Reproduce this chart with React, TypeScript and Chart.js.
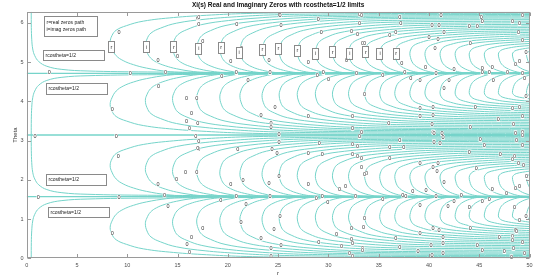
import React, { useEffect, useRef } from "react";
import { Chart, registerables } from "chart.js";

Chart.register(...registerables);

const FONT = "'Liberation Sans', Arial, Helvetica, sans-serif";
const CYAN = "rgb(118,212,202)";
const TITLE = "Xi(s) Real and Imaginary Zeros with rcostheta=1/2 limits";

// ---------- data ----------
// Contour family in the band 0 < theta < pi/2 (other bands are its mirror images)
const curveVertexR = [8.3, 11.8, 14.5, 16.9, 19.2, 21.2, 23.4, 25.1, 26.9, 28.7, 30.4, 32.0, 33.6, 35.1, 36.6, 38.1, 39.6, 41.1, 42.6, 44.0, 45.5, 46.9, 48.3, 49.7];
const curveVertexTheta = [0.78, 0.88, 0.93, 0.95, 0.97, 1.0, 1.0, 1.02, 1.03, 1.05, 1.04, 1.05, 1.05, 1.06, 1.06, 1.06, 1.07, 1.07, 1.07, 1.08, 1.08, 1.08, 1.08, 1.08];
const curveOuterTheta = [0.01, 0.04, 0.07, 0.1, 0.13, 0.16, 0.2, 0.24, 0.28, 0.32, 0.36, 0.4, 0.44, 0.48, 0.52, 0.56, 0.6, 0.64, 0.68, 0.72, 0.76, 0.8, 0.84, 0.88];
const curveOuterSpan = [3.5, 3.3, 3.1, 3.0, 2.9, 2.8, 2.7, 2.6, 2.6, 2.5, 2.5, 2.4, 2.4, 2.4, 2.3, 2.3, 2.3, 2.3, 2.2, 2.2, 2.2, 2.2, 2.2, 2.2];
const curveInnerSpan = [3.5, 3.0, 2.6, 2.3, 2.1, 1.9, 1.8, 1.7, 1.6, 1.5, 1.5, 1.4, 1.4, 1.3, 1.3, 1.3, 1.2, 1.2, 1.2, 1.2, 1.2, 1.2, 1.2, 1.2];

// shape of the first curve, normalised (outer branch toward theta=0, inner toward pi/2)
const outerProfileU = [0, 0.05, 0.17, 0.46, 0.94, 1.8, 2.74, 3.7, 5, 7, 10, 16];
const outerProfile = [1, 0.78, 0.6, 0.45, 0.3, 0.18, 0.105, 0.053, 0.025, 0.01, 0.003, 0];
const innerProfileU = [0, 0.05, 0.17, 0.37, 0.66, 1.03, 1.6, 2.06, 3, 5, 30];
const innerProfile = [1, 0.79, 0.57, 0.41, 0.28, 0.17, 0.065, 0.027, 0.008, 0.002, 0];

// r*cos(theta)=1/2 boundary (first quadrant piece)
const stripR = [0.45, 0.46, 0.5, 0.6, 0.8, 1.2, 2, 3.5, 6, 12, 25, 50];
const stripTheta = [0, 0.4, 0.7, 0.95, 1.12, 1.27, 1.39, 1.47, 1.51, 1.535, 1.55, 1.56];

// straight zero lines
const zeroLineTheta = [Math.PI / 2, Math.PI, (3 * Math.PI) / 2];

// "0" contour labels
const zeroLabelR = [9.17, 13.07, 15.0, 17.0, 2.25, 10.3, 13.8, 13.1, 8.5, 16.4, 15.9, 16.2, 0.82, 8.9, 16.8, 15.9,
  17.1, 17.1, 20.9, 25.2, 25.3, 29, 29.3, 33.1, 33.1, 32.3, 33.4, 17.5, 21.35, 20.3, 24.1, 28, 31.8, 20.85, 24.2, 28.9, 29.5, 32.8, 19.4, 22, 30.0, 16.9, 24.7, 23.3, 28, 17.0, 24.3, 24.3, 32.4, 32.4, 33.1,
  33.3, 37.1, 37.2, 41.2, 41, 40.3, 41.5, 45.2, 45.3, 44, 44.8, 49.3, 48.3, 49, 48.9, 49.3, 32.9, 36.1, 36.7, 40, 40.9, 44.1, 33.6, 40.6, 49.65, 37.3, 39.65, 42.5, 45.3, 46.3, 49, 48.6, 35.4, 37.6, 38.2, 39.1, 40.7, 42, 45.3, 46, 47.8, 49.3, 49.5, 46.4, 41.5, 39.1, 40.4, 44.6, 48.3, 49, 49.65, 33.6, 36, 39.1, 40.4, 40.3, 44.1, 46.9, 48.4, 49.3, 33.3, 40.4, 49.3, 37.1,
  9.1, 17.1, 17.1, 14.9, 13.07, 15.8, 1.15, 9.17, 13.7, 14.06, 8.5, 16.4, 15.95, 16.2,
  25.1, 25.1, 17, 21, 24.4, 24.9, 29.1, 28, 29.4, 32.4, 32.9, 32.4, 32.9, 33.3, 33.8, 16.9, 20.3, 21.5, 24.1, 25.1, 28, 31.1, 31.7, 20.85, 24.2, 28.8, 29.4, 32.7, 19.3, 21.8, 29.95, 25.2, 21.3, 17.5, 24.6, 32.3, 33.5, 30.8, 23.3, 29.05, 32.3, 25.3, 31.3, 32.4, 33.4, 24.3, 24.3, 32.1, 32.4,
  36.1, 37.5, 37.1, 40.5, 41.1, 40.5, 41.3, 41.4, 45.1, 45.5, 44, 47.1, 48.6, 49.3, 48.7, 49.3, 48.5, 48.3, 48.9, 49.4, 33.3, 36.1, 40.4, 40.8, 40.9, 39.1, 44.7, 33.6, 41.5, 49.7, 38.4, 39.7, 37.4, 46.3, 47.7, 48.6, 49, 35.4, 37.7, 39.1, 40.7, 43.2, 42.5, 41.9, 45.3, 44, 46, 48.5, 49.65, 33.6, 49, 39.1, 40.4, 41, 44.1, 48.6, 41.4, 47, 48.3, 48.7, 36.7, 33.4, 37.1, 38.9, 40.2, 40.3, 41.4, 41.4, 44.8, 45.3, 48.3, 48.4, 49.3, 49.5, 47.5, 48.2];
const zeroLabelTheta = [5.75, 5.05, 5.15, 6.11, 4.73, 4.71, 4.75, 4.39, 3.80, 3.69, 3.5, 3.31, 3.12, 3.12, 3.12, 4.07,
  6.14, 5.97, 5.96, 6.2, 5.94, 6.09, 5.77, 6.22, 6.0, 5.79, 5.47, 5.52, 5.35, 5.02, 5.05, 5.0, 5.05, 4.73, 4.73, 4.67, 4.73, 4.71, 4.64, 4.54, 4.56, 4.09, 3.86, 3.65, 3.61, 3.45, 3.45, 3.35, 3.61, 3.31, 3.1,
  6.2, 6.15, 5.98, 6.2, 5.94, 5.94, 5.75, 6.15, 6.03, 5.92, 5.92, 6.2, 6.03, 5.98, 5.75, 5.56, 5.72, 5.69, 5.75, 5.63, 5.58, 5.49, 5.47, 5.36, 5.24, 4.97, 4.88, 4.81, 4.84, 4.88, 5.02, 4.94, 4.67, 4.75, 4.58, 4.54, 4.71, 4.54, 4.73, 4.73, 4.75, 4.71, 4.58, 4.54, 4.33, 3.82, 3.86, 3.86, 3.82, 3.86, 4.12, 4.18, 3.45, 3.61, 3.65, 3.42, 3.35, 3.54, 3.42, 3.61, 3.22, 3.22, 3.22, 3.01,
  2.6, 2.99, 2.78, 2.01, 1.89, 2.19, 1.55, 1.55, 1.61, 1.33, 0.65, 0.55, 0.36, 0.15,
  3.16, 2.97, 2.8, 2.78, 2.78, 2.69, 2.93, 2.69, 2.65, 2.9, 2.86, 2.65, 2.6, 2.31, 2.16, 2.19, 1.88, 1.99, 1.91, 2.08, 1.88, 1.76, 1.84, 1.57, 1.57, 1.53, 1.57, 1.57, 1.48, 1.38, 1.42, 1.08, 0.91, 0.76, 0.74, 0.76, 0.8, 0.62, 0.51, 0.40, 0.49, 0.34, 0.30, 0.38, 0.25, 0.25, 0.06, 0.13, 0.06,
  2.84, 2.82, 3.0, 2.97, 2.93, 3.2, 3.18, 3.08, 3.03, 2.88, 2.71, 2.65, 3.2, 3.14, 3.01, 2.88, 2.6, 2.52, 2.42, 2.38, 2.55, 2.55, 2.31, 2.22, 2.43, 2.43, 2.29, 2.14, 1.94, 2.08, 1.7, 1.74, 1.61, 1.76, 1.67, 1.78, 1.84, 1.50, 1.57, 1.36, 1.57, 1.61, 1.46, 1.34, 1.46, 1.29, 1.50, 1.31, 1.08, 1.03, 0.96, 0.64, 0.76, 0.72, 0.78, 0.72, 0.53, 0.55, 0.57, 0.68, 0.51, 0.21, 0.28, 0.19, 0.34, 0.08, 0.38, 0.14, 0.34, 0.21, 0.47, 0.25, 0.40, 0.13, 0.17, 0.04];

// r / i path markers
const pathMarkLetter = ["r", "i", "r", "i", "r", "i", "r", "r", "r", "i", "r", "i", "r", "i", "r"];
const pathMarkR = [8.4, 11.9, 14.6, 17.1, 19.3, 21.1, 23.4, 25.0, 26.9, 28.7, 30.4, 32.1, 33.7, 35.1, 36.7];
const pathMarkTheta = [5.39, 5.39, 5.39, 5.35, 5.37, 5.24, 5.33, 5.35, 5.29, 5.22, 5.26, 5.23, 5.26, 5.22, 5.23];

// text annotations
const noteText = [["r=real zeros path", "i=imag zeros path"], ["rcostheta=1/2"], ["rcostheta=1/2"], ["rcostheta=1/2"], ["rcostheta=1/2"]];
const noteLeftR = [1.75, 1.65, 1.92, 1.89, 2.15];
const noteRightR = [6.95, 7.68, 7.94, 7.85, 8.14];
const noteTopTheta = [6.17, 5.32, 4.46, 2.14, 1.31];
const noteBottomTheta = [5.66, 5.05, 4.18, 1.88, 1.06];

// ---------- build datasets ----------
const bandMaps: ((t: number) => number)[] = [
  (t) => t,
  (t) => Math.PI - t,
  (t) => Math.PI + t,
  (t) => 2 * Math.PI - t,
];

function buildDatasets() {
  const ds: any[] = [];
  const base = { borderColor: CYAN, borderWidth: 1, pointRadius: 0, fill: false, tension: 0.4 };
  for (const m of bandMaps) {
    for (let k = 0; k < curveVertexR.length; k++) {
      const rv = curveVertexR[k];
      const tv = curveVertexTheta[k];
      const ta = curveOuterTheta[k];
      const so = curveOuterSpan[k];
      const si = curveInnerSpan[k];
      const pts: { x: number; y: number }[] = [];
      for (let i = outerProfileU.length - 1; i >= 1; i--) {
        pts.push({ x: rv + outerProfileU[i] * so, y: m(ta + (tv - ta) * outerProfile[i]) });
      }
      pts.push({ x: rv, y: m(tv) });
      for (let i = 1; i < innerProfileU.length; i++) {
        pts.push({ x: rv + innerProfileU[i] * si, y: m(Math.PI / 2 - (Math.PI / 2 - tv) * innerProfile[i]) });
      }
      ds.push({ ...base, data: pts });
    }
    ds.push({ ...base, data: stripR.map((r, i) => ({ x: r, y: m(stripTheta[i]) })) });
  }
  for (const t of zeroLineTheta) {
    ds.push({ ...base, borderWidth: 1.3, tension: 0, data: [{ x: 0, y: t }, { x: 50, y: t }] });
  }
  return ds;
}

const overlayPlugin = {
  id: "overlay",
  afterDatasetsDraw(chart: any) {
    const { ctx, scales } = chart;
    const x = scales.x;
    const y = scales.y;
    ctx.save();
    // contour labels
    ctx.font = `5.5px ${FONT}`;
    ctx.textAlign = "center";
    ctx.textBaseline = "middle";
    for (let i = 0; i < zeroLabelR.length; i++) {
      const px = x.getPixelForValue(zeroLabelR[i]);
      const py = y.getPixelForValue(zeroLabelTheta[i]);
      ctx.fillStyle = "#ffffff";
      ctx.fillRect(px - 1.7, py - 2.4, 3.4, 4.8);
      ctx.fillStyle = "#333333";
      ctx.fillText("0", px, py + 0.3);
    }
    // r / i markers
    ctx.font = `5.5px ${FONT}`;
    for (let i = 0; i < pathMarkR.length; i++) {
      const px = x.getPixelForValue(pathMarkR[i]);
      const py = y.getPixelForValue(pathMarkTheta[i]);
      ctx.fillStyle = "#ffffff";
      ctx.fillRect(px - 3.2, py - 5.5, 6.4, 11);
      ctx.strokeStyle = "#8a8a8a";
      ctx.lineWidth = 1;
      ctx.strokeRect(Math.round(px - 3.2) + 0.5, Math.round(py - 5.5) + 0.5, 6, 11);
      ctx.fillStyle = "#333333";
      ctx.fillText(pathMarkLetter[i], px + 0.3, py + 0.3);
    }
    // text boxes
    ctx.textAlign = "left";
    ctx.font = `5px ${FONT}`;
    for (let i = 0; i < noteText.length; i++) {
      const l = Math.round(x.getPixelForValue(noteLeftR[i]));
      const r = Math.round(x.getPixelForValue(noteRightR[i]));
      const t = Math.round(y.getPixelForValue(noteTopTheta[i]));
      const b = Math.round(y.getPixelForValue(noteBottomTheta[i]));
      ctx.fillStyle = "#ffffff";
      ctx.fillRect(l, t, r - l, b - t);
      ctx.strokeStyle = "#8a8a8a";
      ctx.strokeRect(l + 0.5, t + 0.5, r - l, b - t);
      ctx.fillStyle = "#222222";
      const lines = noteText[i];
      const h = b - t;
      const step = lines.length > 1 ? 7.3 : 0;
      const startY = t + h / 2 - (step * (lines.length - 1)) / 2;
      lines.forEach((s, j) => ctx.fillText(s, l + 2.5, startY + j * step + 0.4));
    }
    ctx.restore();
  },
  afterDraw(chart: any) {
    const { ctx, chartArea: a, scales } = chart;
    ctx.save();
    ctx.strokeStyle = "#9a9a9a";
    ctx.lineWidth = 1;
    const L = Math.round(a.left) + 0.5;
    const R = Math.round(a.right) - 0.5;
    const T = Math.round(a.top) + 0.5;
    const B = Math.round(a.bottom) - 0.5;
    ctx.strokeRect(L, T, R - L, B - T);
    ctx.beginPath();
    for (const t of scales.x.ticks) {
      const px = Math.round(scales.x.getPixelForValue(t.value)) + 0.5;
      ctx.moveTo(px, B);
      ctx.lineTo(px, B - 3.5);
      ctx.moveTo(px, T);
      ctx.lineTo(px, T + 3.5);
    }
    for (const t of scales.y.ticks) {
      const py = Math.round(scales.y.getPixelForValue(t.value)) + 0.5;
      ctx.moveTo(L, py);
      ctx.lineTo(L + 3.5, py);
      ctx.moveTo(R, py);
      ctx.lineTo(R - 3.5, py);
    }
    ctx.stroke();
    // title
    ctx.fillStyle = "#111111";
    ctx.font = `bold 6.5px ${FONT}`;
    ctx.textAlign = "center";
    ctx.textBaseline = "middle";
    ctx.fillText(TITLE, (a.left + a.right) / 2, 5.5);
    ctx.restore();
  },
};

export default function App() {
  const ref = useRef<HTMLCanvasElement | null>(null);
  useEffect(() => {
    document.body.style.margin = "0";
    if (!ref.current) return;
    const chart = new Chart(ref.current, {
      type: "line",
      data: { datasets: buildDatasets() },
      options: {
        animation: false,
        responsive: false,
        events: [],
        layout: { padding: { top: 11.7, right: 5.7, left: 0, bottom: 0 } },
        plugins: { legend: { display: false }, tooltip: { enabled: false }, title: { display: false } },
        scales: {
          x: {
            type: "linear",
            min: 0,
            max: 50,
            grid: { display: false, drawTicks: false },
            border: { display: false },
            ticks: { stepSize: 5, includeBounds: false, color: "#4d4d4d", padding: 3.4, maxRotation: 0, font: { size: 5.5, family: FONT } },
            title: { display: true, text: "r", color: "#333333", font: { size: 6, family: FONT }, padding: { top: 0, bottom: 0 } },
            afterFit: (s: any) => { s.height = 18.7; },
          },
          y: {
            type: "linear",
            min: 0,
            max: 2 * Math.PI,
            grid: { display: false, drawTicks: false },
            border: { display: false },
            ticks: { stepSize: 1, includeBounds: false, color: "#4d4d4d", padding: 3.2, font: { size: 5.5, family: FONT }, callback: (v: any) => String(Math.round(v)) },
            title: { display: true, text: "Theta", color: "#333333", font: { size: 6, family: FONT }, padding: { top: 11.4, bottom: 0 } },
            afterFit: (s: any) => { s.width = 26.7; },
          },
        },
      } as any,
      plugins: [overlayPlugin],
    });
    return () => chart.destroy();
  }, []);
  return <canvas ref={ref} width={536} height={277} style={{ display: "block" }} />;
}
